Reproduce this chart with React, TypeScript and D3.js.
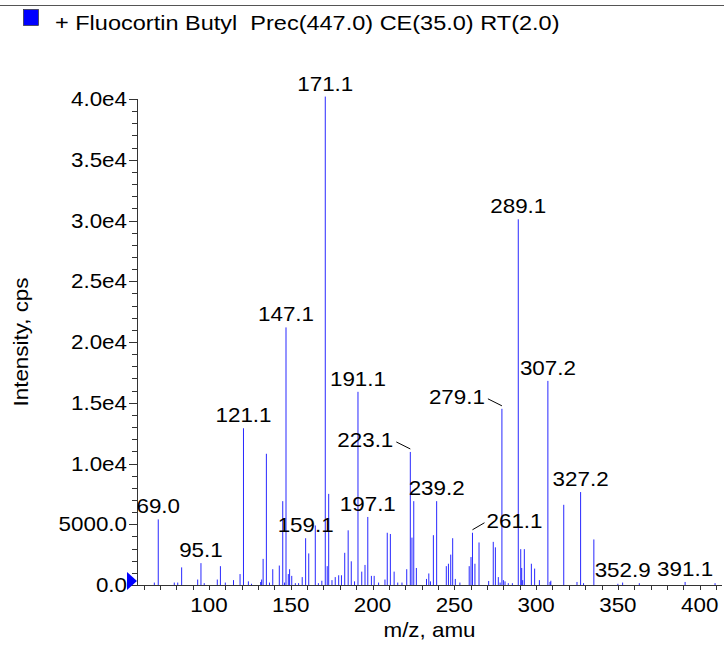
import React from 'react';
import * as d3 from 'd3';

// ---- data ----
const mzValues = [
  66.6, 69.0, 78.8, 80.9, 83.3, 93.1, 95.1, 97.1, 105.1, 107.0, 110.0, 115.0, 119.0, 121.1, 124.1, 126.0,
  131.6, 132.2, 133.1, 135.1, 137.0, 139.0, 143.0, 145.1, 146.2, 147.1, 148.5, 149.3, 150.6, 152.8, 154.8,
  157.0, 159.1, 161.0, 165.0, 166.9, 169.0, 171.1, 172.3, 173.2, 175.2, 177.2, 179.3, 181.0, 183.0, 185.1,
  187.0, 189.0, 191.1, 193.4, 195.4, 197.1, 199.3, 201.0, 203.7, 207.6, 209.0, 210.9, 213.2, 215.4, 218.0,
  220.9, 223.1, 224.1, 225.2, 226.8, 233.0, 234.4, 235.4, 237.2, 239.2, 245.1, 246.4, 247.8, 249.0, 250.6,
  253.4, 259.1, 260.2, 261.1, 262.6, 265.1, 271.0, 273.8, 275.1, 276.9, 278.0, 279.1, 280.0, 281.0, 283.0,
  285.5, 289.1, 290.6, 291.2, 291.8, 292.8, 297.1, 299.1, 302.0, 307.2, 308.5, 309.0, 316.9, 325.0, 327.2,
  329.0, 335.3, 350.0, 352.9, 363.1, 391.1, 409.4,
];
const intensities = [
  200, 5400, 200, 200, 1450, 450, 1800, 150, 450, 1550, 200, 400, 900, 12900, 300, 100,
  250, 450, 2150, 10800, 200, 1300, 1600, 6900, 200, 21200, 900, 1300, 750, 150, 150,
  650, 3850, 2600, 4900, 150, 350, 40200, 1550, 7500, 400, 650, 800, 800, 2650, 4500,
  1950, 300, 15900, 1100, 1650, 5600, 750, 750, 200, 450, 4300, 4200, 1100, 200, 200,
  1300, 10950, 3900, 6900, 1400, 500, 950, 300, 4100, 6900, 1550, 1750, 2500, 3850, 500,
  200, 1550, 2300, 4300, 1750, 3500, 330, 3550, 3100, 650, 200, 14500, 400, 300, 150,
  150, 30100, 2950, 1400, 400, 2950, 1750, 1350, 400, 16800, 250, 350, 6600, 250, 7650,
  150, 3750, 100, 200, 150, 250, 150,
];
const labelTexts = ['69.0', '95.1', '121.1', '147.1', '159.1', '171.1', '191.1', '197.1', '223.1', '239.2',
  '261.1', '279.1', '289.1', '307.2', '327.2', '352.9', '391.1'];
const labelMz = [69.0, 95.1, 121.1, 147.1, 159.1, 171.1, 191.1, 197.1, 223.1, 239.2,
  261.1, 279.1, 289.1, 307.2, 327.2, 352.9, 391.1];
const yTickValues = [0, 5000, 10000, 15000, 20000, 25000, 30000, 35000, 40000];
const yTickLabels = ['0.0', '5000.0', '1.0e4', '1.5e4', '2.0e4', '2.5e4', '3.0e4', '3.5e4', '4.0e4'];
const xTickValues = [100, 150, 200, 250, 300, 350, 400];
const xTickLabels = ['100', '150', '200', '250', '300', '350', '400'];
const legendText = '+ Fluocortin Butyl  Prec(447.0) CE(35.0) RT(2.0)';
const xTitle = 'm/z, amu';
const yTitle = 'Intensity, cps';

// ---- layout ----
const W = 724;
const H = 647;
const FS = 20;
const SX = 1.12;
const FONT = "'Liberation Sans', Arial, Helvetica, sans-serif";
const leaderLabels: Record<string, 'left' | 'right'> = { '223.1': 'left', '279.1': 'left', '261.1': 'right' };

const x = d3.scaleLinear().domain([56, 413.65]).range([137, 722]);
const y = d3.scaleLinear().domain([0, 40000]).range([585, 99]);

function T(props: { x: number; y: number; anchor?: string; rotate?: number; size?: number; children: React.ReactNode }) {
  const { anchor = 'middle', rotate, size = FS } = props;
  return (
    <g transform={`translate(${props.x},${props.y})${rotate ? ` rotate(${rotate})` : ''} scale(${SX},1)`}>
      <text textAnchor={anchor} fontSize={size} fontFamily={FONT} fill="#000" style={{ whiteSpace: 'pre' }}>
        {props.children}
      </text>
    </g>
  );
}

export default function App() {
  const y0 = y(0);
  const xMinorTicks = d3.range(60, 411, 10);
  const yMinorTicks = d3.range(0, 40001, 1000);
  const [x0, x1] = x.range();
  const peakTop = (mz: number) => {
    const i = mzValues.indexOf(mz);
    return y(intensities[i]);
  };
  return (
    <svg width={W} height={H} style={{ position: 'absolute', left: 0, top: 0, background: '#fff' }}>
      <line x1={0} x2={W} y1={5.5} y2={5.5} stroke="#555" strokeWidth={1} />
      {/* legend */}
      <rect x={23.5} y={9.5} width={15} height={16} fill="#0000ff" stroke="#333" strokeWidth={0.7} />
      <T x={55} y={30} anchor="start" size={21}>{legendText}</T>

      {/* peaks */}
      <g stroke="#0000ff" strokeWidth={0.85}>
        {mzValues.map((m, i) => (
          <line key={i} x1={x(m)} x2={x(m)} y1={y0} y2={y(intensities[i])} />
        ))}
      </g>

      {/* axes */}
      <g stroke="#333" strokeWidth={1} fill="none">
        <line x1={x0} x2={x1} y1={y0 + 0.5} y2={y0 + 0.5} />
        <line x1={x0 + 0.5} x2={x0 + 0.5} y1={y(40000)} y2={y0} />
        {xMinorTicks.map((t) => (
          <line key={'xt' + t} x1={Math.round(x(t)) + 0.5} x2={Math.round(x(t)) + 0.5} y1={y0} y2={y0 + 5} />
        ))}
        {yMinorTicks.map((t) => {
          const major = t % 5000 === 0;
          const yy = Math.round(y(t)) + 0.5;
          return <line key={'yt' + t} x1={x0 - (major ? 8 : 5)} x2={x0} y1={yy} y2={yy} />;
        })}
      </g>
      <path d={`M${x0 - 10},${y0 - 13} L${x0 - 10},${y0 + 5} L${x0},${y0 - 4} Z`} fill="#0000ff" />

      {yTickValues.map((t, i) => (
        <T key={'yl' + t} x={x0 - 10} y={y(t) + 7} anchor="end">{yTickLabels[i]}</T>
      ))}
      {xTickValues.map((t, i) => (
        <T key={'xl' + t} x={x(t)} y={y0 + 27}>{xTickLabels[i]}</T>
      ))}
      <T x={(x0 + x1) / 2} y={y0 + 52}>{xTitle}</T>
      <T x={28} y={(y(0) + y(40000)) / 2} rotate={-90}>{yTitle}</T>

      {/* peak labels */}
      {labelTexts.map((lab, i) => {
        const m = labelMz[i];
        const px = x(m);
        const top = peakTop(m);
        const side = leaderLabels[lab];
        if (side === 'left') {
          const tx = px - 17;
          return (
            <g key={lab}>
              <T x={tx} y={top - 5} anchor="end">{lab}</T>
              <line x1={tx + 3} y1={top - 10} x2={px} y2={top - 3} stroke="#000" strokeWidth={1} />
            </g>
          );
        }
        if (side === 'right') {
          const tx = px + 14;
          return (
            <g key={lab}>
              <T x={tx} y={top - 5} anchor="start">{lab}</T>
              <line x1={px} y1={top - 3} x2={tx - 2} y2={top - 10} stroke="#000" strokeWidth={1} />
            </g>
          );
        }
        return <T key={lab} x={px} y={top - 6}>{lab}</T>;
      })}
    </svg>
  );
}
